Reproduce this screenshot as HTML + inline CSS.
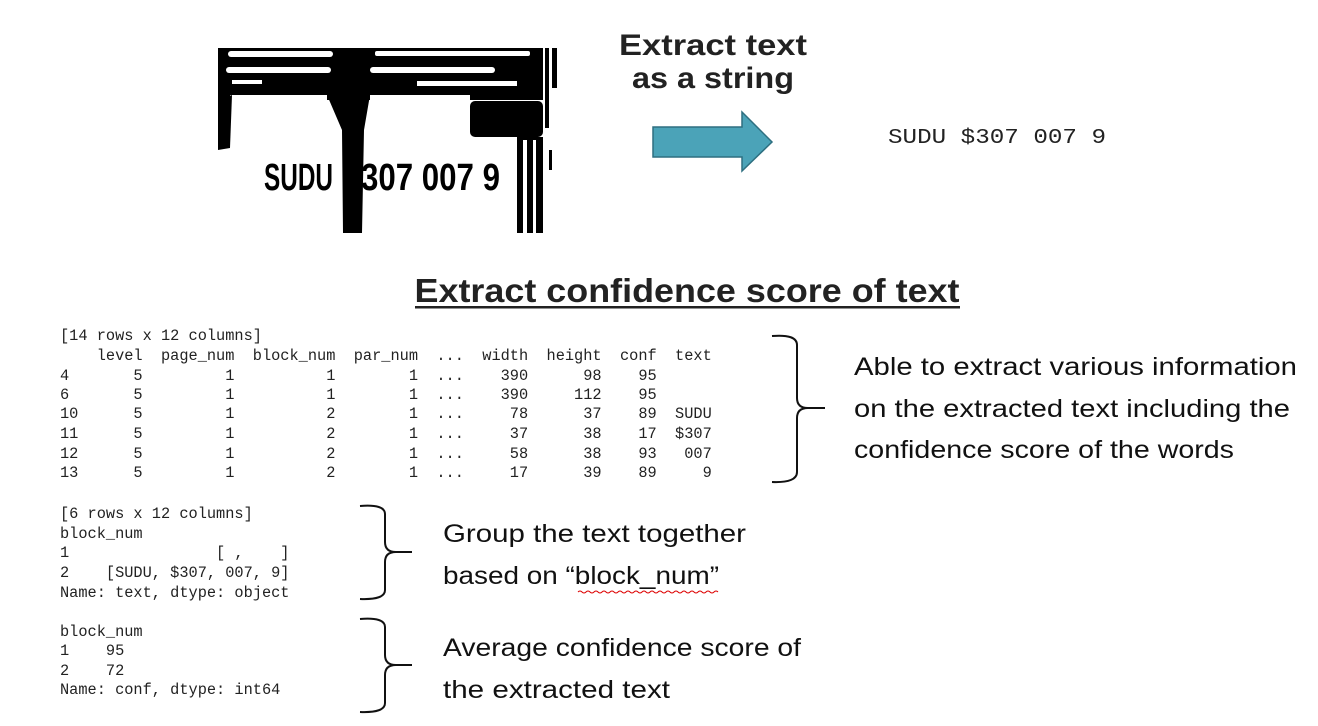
<!DOCTYPE html>
<html><head><meta charset="utf-8"><style>
html,body{margin:0;padding:0;background:#fff;}
svg{display:block;}
.mono{font-family:"Liberation Mono",monospace;font-size:15.3px;fill:#222;white-space:pre;}
.body{font-family:"Liberation Sans",sans-serif;font-size:25px;fill:#111;}
</style></head><body>
<svg width="1318" height="726" viewBox="0 0 1318 726" xmlns="http://www.w3.org/2000/svg">
<g>
  <rect x="218" y="48" width="339" height="52" fill="#000"/>
  <rect x="228" y="51" width="105" height="6" fill="#fff" rx="3"/>
  <rect x="375" y="51" width="155" height="5" fill="#fff" rx="2"/>
  <rect x="226" y="67" width="105" height="6" fill="#fff" rx="3"/>
  <rect x="370" y="67" width="125" height="6" fill="#fff" rx="3"/>
  <rect x="232" y="80" width="30" height="4" fill="#fff"/>
  <rect x="417" y="81" width="100" height="5" fill="#fff"/>
  <rect x="230" y="95" width="97" height="140" fill="#fff"/>
  <rect x="370" y="95" width="100" height="140" fill="#fff"/>
  <rect x="470" y="100" width="45" height="135" fill="#fff"/>
  <polygon points="218,100 232,95 230,148 218,150" fill="#000"/>
  <polygon points="327,95 370,95 364,130 362,233 343,233 342,130" fill="#000"/>
  <rect x="470" y="101" width="73" height="36" fill="#000" rx="5"/>
  <rect x="517" y="137" width="26" height="96" fill="#000"/>
  <rect x="523" y="140" width="4" height="93" fill="#fff"/>
  <rect x="533" y="140" width="3" height="93" fill="#fff"/>
  <rect x="543" y="48" width="14" height="185" fill="#fff"/>
  <rect x="545" y="48" width="4" height="80" fill="#000"/>
  <rect x="552" y="48" width="5" height="40" fill="#000"/>
  <rect x="549" y="150" width="3" height="20" fill="#000"/>
  <text x="264" y="190" font-family="Liberation Sans Narrow, Liberation Sans, sans-serif" font-weight="bold" font-size="38" textLength="69" lengthAdjust="spacingAndGlyphs" fill="#000">SUDU</text>
  <text x="361" y="190" font-family="Liberation Sans Narrow, Liberation Sans, sans-serif" font-weight="bold" font-size="38" textLength="139" lengthAdjust="spacingAndGlyphs" fill="#000">307 007 9</text>
</g>
<text x="713" y="55" text-anchor="middle" font-family="Liberation Sans,sans-serif" font-weight="bold" font-size="30" fill="#222" textLength="188" lengthAdjust="spacingAndGlyphs">Extract text</text>
<text x="713" y="88" text-anchor="middle" font-family="Liberation Sans,sans-serif" font-weight="bold" font-size="30" fill="#222" textLength="162" lengthAdjust="spacingAndGlyphs">as a string</text>
<polygon points="653,127 742,127 742,112 772,142 742,171 742,157 653,157" fill="#4ba3b8" stroke="#2e6f80" stroke-width="1.5"/>
<text x="888" y="143" font-family="Liberation Mono,monospace" font-size="21" fill="#222" textLength="218" lengthAdjust="spacingAndGlyphs">SUDU $307 007 9</text>
<text x="687" y="302" text-anchor="middle" font-family="Liberation Sans,sans-serif" font-weight="bold" font-size="33" fill="#222" textLength="545" lengthAdjust="spacingAndGlyphs">Extract confidence score of text</text>
<rect x="415" y="306" width="545" height="2.5" fill="#222"/>
<g class="mono">
<text x="60" y="340" xml:space="preserve">[14 rows x 12 columns]</text>
<text x="60" y="360" xml:space="preserve">    level  page_num  block_num  par_num  ...  width  height  conf  text</text>
<text x="60" y="380" xml:space="preserve">4       5         1          1        1  ...    390      98    95      </text>
<text x="60" y="399" xml:space="preserve">6       5         1          1        1  ...    390     112    95      </text>
<text x="60" y="418" xml:space="preserve">10      5         1          2        1  ...     78      37    89  SUDU</text>
<text x="60" y="438" xml:space="preserve">11      5         1          2        1  ...     37      38    17  $307</text>
<text x="60" y="458" xml:space="preserve">12      5         1          2        1  ...     58      38    93   007</text>
<text x="60" y="477" xml:space="preserve">13      5         1          2        1  ...     17      39    89     9</text>
</g>
<g class="mono">
<text x="60" y="518" xml:space="preserve">[6 rows x 12 columns]</text>
<text x="60" y="538" xml:space="preserve">block_num</text>
<text x="60" y="557" xml:space="preserve">1                [ ,    ]</text>
<text x="60" y="577" xml:space="preserve">2    [SUDU, $307, 007, 9]</text>
<text x="60" y="597" xml:space="preserve">Name: text, dtype: object</text>
</g>
<g class="mono">
<text x="60" y="636" xml:space="preserve">block_num</text>
<text x="60" y="655" xml:space="preserve">1    95</text>
<text x="60" y="675" xml:space="preserve">2    72</text>
<text x="60" y="694" xml:space="preserve">Name: conf, dtype: int64</text>
</g>
<g fill="none" stroke="#111" stroke-width="2">
<path d="M772,336 Q797,334 797,345 L797,398 Q797,408 808,408 L825,408 M808,408 Q797,408 797,418 L797,472 Q797,483 772,482"/>
<path d="M360,506 Q385,504 385,514 L385,542 Q385,552 396,552 L412,552 M396,552 Q385,552 385,562 L385,590 Q385,600 360,599"/>
<path d="M360,619 Q385,617 385,627 L385,655 Q385,665 396,665 L412,665 M396,665 Q385,665 385,675 L385,703 Q385,713 360,712"/>
</g>
<g class="body">
<text x="854" y="375" textLength="443" lengthAdjust="spacingAndGlyphs">Able to extract various information</text>
<text x="854" y="417" textLength="436" lengthAdjust="spacingAndGlyphs">on the extracted text including the</text>
<text x="854" y="458" textLength="380" lengthAdjust="spacingAndGlyphs">confidence score of the words</text>
<text x="443" y="542" textLength="303" lengthAdjust="spacingAndGlyphs">Group the text together</text>
<text x="443" y="584" textLength="276" lengthAdjust="spacingAndGlyphs">based on “block_num”</text>
<text x="443" y="656" textLength="358" lengthAdjust="spacingAndGlyphs">Average confidence score of</text>
<text x="443" y="698" textLength="227" lengthAdjust="spacingAndGlyphs">the extracted text</text>
</g>
<path d="M578,592 q2,-2 4,0 q2,2 4,0 q2,-2 4,0 q2,2 4,0 q2,-2 4,0 q2,2 4,0 q2,-2 4,0 q2,2 4,0 q2,-2 4,0 q2,2 4,0 q2,-2 4,0 q2,2 4,0 q2,-2 4,0 q2,2 4,0 q2,-2 4,0 q2,2 4,0 q2,-2 4,0 q2,2 4,0 q2,-2 4,0 q2,2 4,0 q2,-2 4,0 q2,2 4,0 q2,-2 4,0 q2,2 4,0 q2,-2 4,0 q2,2 4,0 q2,-2 4,0 q2,2 4,0 q2,-2 4,0 q2,2 4,0 q2,-2 4,0 q2,2 4,0 q2,-2 4,0 q2,2 4,0 q2,-2 4,0" fill="none" stroke="#d00" stroke-width="1"/>
</svg>
</body></html>
